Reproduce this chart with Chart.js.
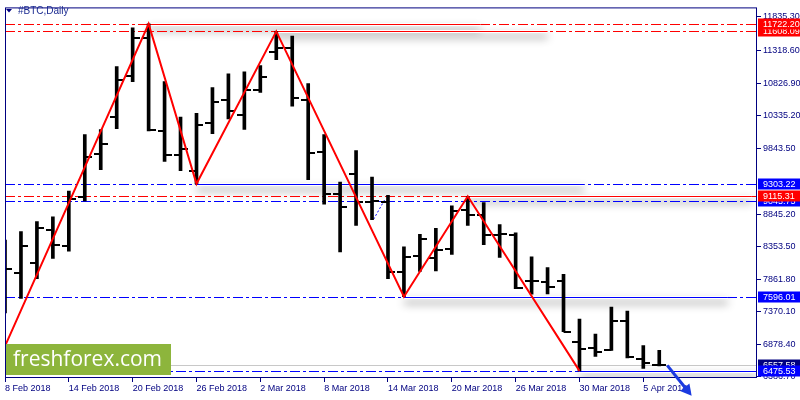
<!DOCTYPE html>
<html lang="en">
<head>
  <meta charset="UTF-8" />
  <title>#BTC,Daily</title>
  <script src="https://cdn.jsdelivr.net/npm/chart.js"></script>
  <style>
    body { margin: 0; background: #fff; }
    #wrap { width: 800px; height: 400px; }
  </style>
</head>
<body>
  <div id="wrap"><canvas id="chart"></canvas></div>

  <script>
    // daily bars, index 0 = 8 Feb 2018 (weekdays only)
    const opens  = [7700, 7962, 8111, 8607, 8364, 9099, 9755, 10321, 10932, 11504, 10097, 9740, 9501, 10223, 10574, 10351, 10718, 11290, 11364, 10574, 9780, 9143, 9456, 9030, 9035, 7977, 8215, 8175, 8324, 8911, 8837, 8533, 8524, 7838, 7813, 7838, 6919, 6825, 6785, 7222, 6661, 6565];
    const highs  = [8454, 8583, 8732, 8806, 9194, 10048, 10122, 11076, 11662, 11722.2, 10849, 10312, 10371, 10759, 10967, 10997, 11091, 11608.09, 11538, 10818, 10048, 9328, 9805, 9407, 9129, 8349, 8538, 8632, 8971, 9115.31, 9020, 8688, 8562, 8200, 8036, 7936, 7257, 7033, 7440, 7381, 6859, 6785];
    const lows   = [7351, 7570, 7868, 8175, 8285, 9045, 9516, 10137, 10849, 10103, 9641, 9504, 9303.22, 10063, 10286, 10127, 10685, 11181, 10476, 9367, 8995, 8275, 8673, 8762, 7868, 7596.01, 7977, 7987, 8234, 8673, 8384, 8190, 7719, 7634, 7638, 7068, 6475.53, 6695, 6785, 6670, 6512, 6550];
    const closes = [8017, 8364, 8632, 8384, 9080, 9710, 9903, 10868, 11513, 10112, 9740, 9835, 10187, 10544, 10410, 10718, 10923, 11364, 10600, 9765, 9143, 8950, 9030, 9045, 7966, 8200, 8464, 8309, 8896, 8837, 8533, 8540, 7728, 7828, 7738, 7068, 6799, 6759, 7232, 6685, 6601, 6557.58];

    const dateIdx = [0, 4, 8, 12, 16, 20, 24, 28, 32, 36, 40];
    const dateLabels = ['8 Feb 2018', '14 Feb 2018', '20 Feb 2018', '26 Feb 2018', '2 Mar 2018', '8 Mar 2018', '14 Mar 2018', '20 Mar 2018', '26 Mar 2018', '30 Mar 2018', '5 Apr 2018'];
    const yTicks = [11835.30, 11318.60, 10826.90, 10335.20, 9843.50, 8845.20, 8353.50, 7861.80, 7370.10, 6878.40, 6386.70];

    // zigzag swing points
    const zzIdx = [0, 9, 12, 17, 25, 29, 36];
    const zzVal = [6848, 11722.20, 9303.22, 11608.09, 7596.01, 9115.31, 6475.53];

    // horizontal levels and their solid trend-line parts
    const levelVals   = [11722.20, 11608.09, 9303.22, 9115.31, 9045.75, 7596.01, 6475.53];
    const levelColors = ['#ff0000', '#ff0000', '#0000ff', '#ff0000', '#0000ff', '#0000ff', '#0000ff'];
    const segFrom     = [9, 17, 12, 29, null, 25, 36];
    const segTo       = [29.8, 34, 36.3, 46.8, null, 45.3, 47.2];
    const bidVal = 6557.58;

    const navy = '#000080';
    Chart.defaults.font.family = '"Liberation Sans", Arial, sans-serif';

    function tickImg(side) {
      const c = document.createElement('canvas');
      c.width = 14; c.height = 2;
      const g = c.getContext('2d');
      g.fillStyle = '#000';
      if (side < 0) g.fillRect(0, 0, 7, 2); else g.fillRect(7, 0, 7, 2);
      return c;
    }

    const levelsPlugin = {
      id: 'levels',
      beforeDatasetsDraw(chart) {
        const { ctx, chartArea: a, scales: { x, y } } = chart;
        ctx.save();
        ctx.beginPath();
        ctx.rect(a.left, a.top, a.right - a.left, a.bottom - a.top);
        ctx.clip();
        // bid line
        let by = Math.round(y.getPixelForValue(bidVal)) + 0.5;
        ctx.strokeStyle = '#c8c8c8';
        ctx.lineWidth = 1;
        ctx.beginPath(); ctx.moveTo(a.left, by); ctx.lineTo(a.right, by); ctx.stroke();

        levelVals.forEach((v, k) => {
          const py = Math.round(y.getPixelForValue(v)) + 0.5;
          ctx.setLineDash([10, 3, 3, 3]);
          ctx.strokeStyle = levelColors[k];
          ctx.lineWidth = 1;
          ctx.beginPath(); ctx.moveTo(a.left, py); ctx.lineTo(a.right, py); ctx.stroke();
          ctx.setLineDash([]);
          if (segFrom[k] !== null) {
            const x1 = x.getPixelForValue(segFrom[k]);
            const x2 = x.getPixelForValue(segTo[k]);
            ctx.save();
            ctx.shadowColor = 'rgba(0,0,0,0.45)';
            ctx.shadowBlur = 8;
            ctx.shadowOffsetY = 5;
            ctx.strokeStyle = '#fff';
            ctx.lineWidth = 3;
            ctx.beginPath(); ctx.moveTo(x1, py); ctx.lineTo(x2, py); ctx.stroke();
            ctx.restore();
            ctx.strokeStyle = levelColors[k];
            ctx.lineWidth = 1;
            ctx.beginPath(); ctx.moveTo(x1, py); ctx.lineTo(x2, py); ctx.stroke();
          }
        });

        // small dotted trend line
        ctx.setLineDash([2, 2]);
        ctx.strokeStyle = '#0000ff';
        ctx.beginPath();
        ctx.moveTo(x.getPixelForValue(23.1), y.getPixelForValue(8767));
        ctx.lineTo(x.getPixelForValue(23.8), y.getPixelForValue(9065));
        ctx.stroke();
        ctx.restore();
      }
    };

    const overlayPlugin = {
      id: 'overlay',
      afterDraw(chart) {
        const { ctx, chartArea: a, scales: { x, y } } = chart;
        ctx.save();
        // frame
        ctx.strokeStyle = navy;
        ctx.lineWidth = 1;
        ctx.strokeRect(a.left + 0.5, a.top + 0.5, a.right - a.left - 1, a.bottom - a.top - 1);

        // price labels on the axis
        const boxes = [
          [bidVal, navy], [9045.75, '#0000ff'], [11608.09, '#ff0000'], [11722.20, '#ff0000'],
          [9303.22, '#0000ff'], [9115.31, '#ff0000'], [7596.01, '#0000ff'], [6475.53, '#0000ff']
        ];
        ctx.font = '9px "Liberation Sans", Arial, sans-serif';
        ctx.textBaseline = 'middle';
        boxes.forEach(([v, col]) => {
          const py = y.getPixelForValue(v);
          ctx.fillStyle = col;
          ctx.fillRect(a.right + 1, Math.round(py) - 5.5, 50, 11);
          ctx.fillStyle = '#fff';
          ctx.fillText(v.toFixed(2), a.right + 6, py + 0.5);
        });

        // title
        ctx.fillStyle = navy;
        ctx.beginPath();
        ctx.moveTo(6, 9); ctx.lineTo(12, 9); ctx.lineTo(9, 12.5); ctx.closePath();
        ctx.fill();
        ctx.font = '10px "Liberation Sans", Arial, sans-serif';
        ctx.fillStyle = '#1a2a90';
        ctx.fillText('#BTC,Daily', 18, 11);

        // watermark
        ctx.fillStyle = '#8db53c';
        ctx.fillRect(6, 344, 165, 31);
        ctx.fillStyle = '#fff';
        ctx.font = '21px "Open Sans", sans-serif';
        ctx.fillText('freshforex.com', 13, 360);

        // forecast arrow
        const x1 = x.getPixelForValue(41.5), y1 = y.getPixelForValue(bidVal);
        const x2 = x.getPixelForValue(43.03), y2 = y.getPixelForValue(6099);
        const ang = Math.atan2(y2 - y1, x2 - x1);
        ctx.strokeStyle = '#1a3ae0';
        ctx.fillStyle = '#1a3ae0';
        ctx.lineWidth = 3;
        ctx.beginPath();
        ctx.moveTo(x1, y1);
        ctx.lineTo(x2 - 8 * Math.cos(ang), y2 - 8 * Math.sin(ang));
        ctx.stroke();
        ctx.beginPath();
        ctx.moveTo(x2, y2);
        ctx.lineTo(x2 - 11 * Math.cos(ang) + 6 * Math.sin(ang), y2 - 11 * Math.sin(ang) - 6 * Math.cos(ang));
        ctx.lineTo(x2 - 11 * Math.cos(ang) - 6 * Math.sin(ang), y2 - 11 * Math.sin(ang) + 6 * Math.cos(ang));
        ctx.closePath();
        ctx.fill();
        ctx.restore();
      }
    };

    const idx = opens.map((_, i) => i);

    new Chart(document.getElementById('chart'), {
      data: {
        datasets: [
          {
            type: 'line',
            data: zzIdx.map((v, k) => ({ x: v, y: zzVal[k] })),
            borderColor: '#ff0000',
            borderWidth: 2,
            pointRadius: 0,
            tension: 0,
            order: 0,
          },
          {
            type: 'line',
            data: idx.map(i => ({ x: i, y: opens[i] })),
            showLine: false,
            pointStyle: tickImg(-1),
            pointRadius: 3,
            order: 1,
          },
          {
            type: 'line',
            data: idx.map(i => ({ x: i, y: closes[i] })),
            showLine: false,
            pointStyle: tickImg(1),
            pointRadius: 3,
            order: 1,
          },
          {
            type: 'bar',
            data: idx.map(i => ({ x: i, y: [lows[i], highs[i]] })),
            backgroundColor: '#000',
            barThickness: 3,
            grouped: false,
            order: 2,
          },
        ],
      },
      options: {
        responsive: true,
        maintainAspectRatio: false,
        animation: false,
        layout: { padding: { left: 3, top: 2, right: 0, bottom: 0 } },
        plugins: { legend: { display: false }, tooltip: { enabled: false } },
        scales: {
          x: {
            type: 'linear',
            offset: false,
            min: 0,
            max: 47.125,
            afterBuildTicks: s => { s.ticks = dateIdx.map(v => ({ value: v })); },
            afterFit: s => { s.height = 22; },
            ticks: {
              align: 'start', color: navy, font: { size: 9 }, padding: 1,
              maxRotation: 0, autoSkip: false,
              callback: (v, i) => dateLabels[i],
            },
            grid: { offset: false, drawOnChartArea: false, drawTicks: true, tickLength: 4, color: navy },
            border: { display: false },
          },
          y: {
            position: 'right',
            min: 6367.3,
            max: 11970.8,
            afterBuildTicks: s => { s.ticks = yTicks.map(v => ({ value: v })); },
            afterFit: s => { s.width = 43; },
            ticks: {
              color: navy, font: { size: 9 }, padding: 2, autoSkip: false,
              callback: v => Number(v).toFixed(2),
            },
            grid: { drawOnChartArea: false, drawTicks: true, tickLength: 4, color: navy },
            border: { display: false },
          },
        },
      },
      plugins: [levelsPlugin, overlayPlugin],
    });
  </script>
</body>
</html>
